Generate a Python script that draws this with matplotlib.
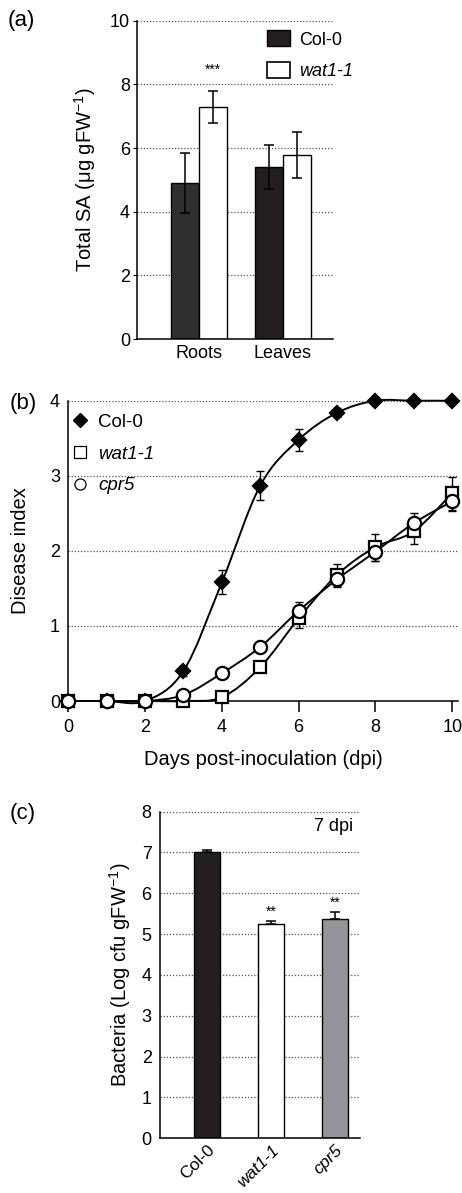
import matplotlib
matplotlib.use("Agg")
import matplotlib.pyplot as plt
import numpy as np
from matplotlib.lines import Line2D
from matplotlib.patches import Patch, PathPatch
from matplotlib.path import Path

plt.rcParams["font.family"] = ["Liberation Sans", "DejaVu Sans"]
plt.rcParams["font.size"] = 13
plt.rcParams["axes.labelsize"] = 14.5
plt.rcParams["mathtext.fontset"] = "custom"
plt.rcParams["mathtext.rm"] = "Liberation Sans"
plt.rcParams["mathtext.it"] = "Liberation Sans:italic"

# (a) total SA
sa_groups = ["Roots", "Leaves"]
sa_col0 = [4.9, 5.4]
sa_col0_err = [0.95, 0.7]
sa_wat1 = [7.3, 5.78]
sa_wat1_err = [0.5, 0.73]

# (b) disease index
days = [0, 1, 2, 3, 4, 5, 6, 7, 8, 9, 10]
di_col0 = [0, 0, 0, 0.40, 1.58, 2.87, 3.48, 3.84, 4.0, 4.0, 4.0]
di_col0_err = [0, 0, 0, 0.07, 0.16, 0.19, 0.15, 0.06, 0, 0, 0]
di_wat1 = [0, 0, 0, 0.0, 0.05, 0.45, 1.10, 1.68, 2.05, 2.26, 2.77]
di_wat1_err = [0, 0, 0, 0, 0.02, 0.06, 0.13, 0.15, 0.18, 0.17, 0.22]
di_cpr5 = [0, 0, 0, 0.08, 0.37, 0.72, 1.20, 1.62, 1.99, 2.37, 2.66]
di_cpr5_err = [0, 0, 0, 0, 0.02, 0.05, 0.12, 0.1, 0.12, 0.13, 0.13]

# (c) bacteria at 7 dpi
lines_c = ["Col-0", "wat1-1", "cpr5"]
bact = [7.02, 5.25, 5.38]
bact_err = [0.03, 0.08, 0.16]
bact_colors = ["#231f20", "white", "#939598"]

grid_kw = dict(color="#555555", linestyle=(0, (1, 1.5)), linewidth=0.9)


def smooth_path(x, y):
    # Catmull-Rom style smoothed line through the points (as in the source plot)
    x = np.asarray(x, float)
    y = np.asarray(y, float)
    pts = np.column_stack([x, y])
    verts = [pts[0]]
    codes = [Path.MOVETO]
    for i in range(len(pts) - 1):
        p0 = pts[i - 1] if i > 0 else pts[i]
        p1, p2 = pts[i], pts[i + 1]
        p3 = pts[i + 2] if i + 2 < len(pts) else pts[i + 1]
        verts += [p1 + (p2 - p0) / 6, p2 - (p3 - p1) / 6, p2]
        codes += [Path.CURVE4] * 3
    return Path(verts, codes)


fig = plt.figure(figsize=(4.62, 11.93), dpi=100)

# ---------- (a) ----------
ax = fig.add_axes([0.2965, 0.7158, 0.4242, 0.2668])
xg = np.arange(len(sa_groups))
w = 0.333
ax.bar(xg - w / 2, sa_col0, w, color=["#302e2f", "#231f20"], edgecolor="black", linewidth=1, zorder=2)
ax.bar(xg + w / 2, sa_wat1, w, color="white", edgecolor="black", linewidth=1, zorder=2)
ax.errorbar(xg - w / 2, sa_col0, yerr=sa_col0_err, fmt="none", ecolor="black", elinewidth=1.1, capsize=3.5, capthick=1.1, zorder=3)
ax.errorbar(xg + w / 2, sa_wat1, yerr=sa_wat1_err, fmt="none", ecolor="black", elinewidth=1.1, capsize=3.5, capthick=1.1, zorder=3)
ax.text(xg[0] + w / 2, 8.25, "***", ha="center", va="bottom", fontsize=10)
ax.set_xlim(-0.738, 1.595)
ax.set_ylim(0, 10)
ax.set_yticks([0, 2, 4, 6, 8, 10])
ax.set_xticks(xg)
ax.set_xticklabels(sa_groups)
ax.tick_params(axis="x", length=0, pad=4)
ax.tick_params(axis="y", length=3, width=0.8, pad=2)
for v in [2, 4, 6, 8, 10]:
    ax.axhline(v, zorder=0, **grid_kw)
for s in ["top", "right"]:
    ax.spines[s].set_visible(False)
for s in ["left", "bottom"]:
    ax.spines[s].set_linewidth(1.1)
ax.set_ylabel(r"Total SA (μg gFW$^{-1}$)")
ax.yaxis.set_label_coords(-0.2, 0.5)
leg = ax.legend(handles=[Patch(facecolor="#231f20", edgecolor="black", label="Col-0"),
                         Patch(facecolor="white", edgecolor="black", linewidth=1.2, label="wat1-1")],
                loc="upper left", bbox_to_anchor=(0.663, 0.97), frameon=False, borderaxespad=0,
                borderpad=0, handlelength=1.3, handleheight=1.0, labelspacing=0.75, handletextpad=0.5,
                fontsize=13)
leg.get_texts()[1].set_style("italic")
fig.text(0.016, 0.983, "(a)", fontsize=16, va="center")

# ---------- (b) ----------
ax = fig.add_axes([0.1478, 0.4124, 0.8435, 0.2517])
series = [(di_col0, di_col0_err, "D", "black", 7.5), (di_wat1, di_wat1_err, "s", "white", 8.5),
          (di_cpr5, di_cpr5_err, "o", "white", 9.5)]
for vals, errs, mk, fc, ms in series:
    ax.add_patch(PathPatch(smooth_path(days, vals), facecolor="none", edgecolor="black", linewidth=1.4,
                           zorder=3, clip_on=False))
    ax.errorbar(days, vals, yerr=errs, fmt="none", ecolor="black", elinewidth=1.0, capsize=3, capthick=1.0,
                zorder=3, clip_on=False)
    ax.plot(days, vals, linestyle="none", marker=mk, markersize=ms, markerfacecolor=fc,
            markeredgecolor="black", markeredgewidth=1.6, zorder=4, clip_on=False)
ax.set_xlim(0, 10.15)
ax.set_ylim(0, 4)
ax.set_xticks([0, 2, 4, 6, 8, 10])
ax.set_yticks([0, 1, 2, 3, 4])
ax.tick_params(axis="x", length=8, width=1.1, direction="out", pad=5)
ax.tick_params(axis="y", length=0, pad=6)
for v in [1, 2, 3, 4]:
    ax.axhline(v, zorder=0, **grid_kw)
for s in ["top", "right"]:
    ax.spines[s].set_visible(False)
for s in ["left", "bottom"]:
    ax.spines[s].set_linewidth(1.1)
ax.set_xlabel("Days post-inoculation (dpi)", labelpad=10)
ax.set_ylabel("Disease index")
ax.yaxis.set_label_coords(-0.098, 0.5)
handles = [Line2D([], [], linestyle="none", marker="D", markersize=7.5, markerfacecolor="black", markeredgecolor="black", label="Col-0"),
           Line2D([], [], linestyle="none", marker="s", markersize=8, markerfacecolor="white", markeredgecolor="black", markeredgewidth=0.9, label="wat1-1"),
           Line2D([], [], linestyle="none", marker="o", markersize=8, markerfacecolor="white", markeredgecolor="black", markeredgewidth=0.9, label="cpr5")]
leg = ax.legend(handles=handles, loc="upper left", bbox_to_anchor=(0.005, 0.957), frameon=False,
                borderaxespad=0, borderpad=0, handlelength=1.0, handletextpad=0.5, labelspacing=0.78,
                fontsize=13.5)
for t in leg.get_texts()[1:]:
    t.set_style("italic")
fig.text(0.02, 0.662, "(b)", fontsize=16, va="center")

# ---------- (c) ----------
ax = fig.add_axes([0.3463, 0.0459, 0.4329, 0.2738])
xc = np.arange(len(lines_c))
ax.bar(xc, bact, 0.41, color=bact_colors, edgecolor="black", linewidth=1, zorder=2)
ax.errorbar(xc, bact, yerr=[np.zeros(len(bact)), bact_err], fmt="none", ecolor="black", elinewidth=1.1,
            capsize=3.5, capthick=1.1, zorder=3)
for i in [1, 2]:
    ax.text(xc[i], bact[i] + bact_err[i] + 0.05, "**", ha="center", va="bottom", fontsize=10)
ax.text(1.97, 7.63, "7 dpi", ha="center", va="center", fontsize=13)
ax.set_xlim(-0.734, 2.39)
ax.set_ylim(0, 8)
ax.set_yticks(range(9))
ax.set_xticks(xc)
ax.set_xticklabels(lines_c, rotation=45, ha="right", rotation_mode="anchor", fontsize=12.5)
ax.get_xticklabels()[1].set_style("italic")
ax.get_xticklabels()[2].set_style("italic")
ax.tick_params(axis="x", length=0, pad=3)
ax.tick_params(axis="y", length=0, pad=6)
for v in range(1, 9):
    ax.axhline(v, zorder=0, **grid_kw)
for s in ["top", "right"]:
    ax.spines[s].set_visible(False)
for s in ["left", "bottom"]:
    ax.spines[s].set_linewidth(1.1)
ax.set_ylabel(r"Bacteria (Log cfu gFW$^{-1}$)")
ax.yaxis.set_label_coords(-0.135, 0.5)
fig.text(0.02, 0.318, "(c)", fontsize=16, va="center")

fig.savefig("out.png", dpi=100)
